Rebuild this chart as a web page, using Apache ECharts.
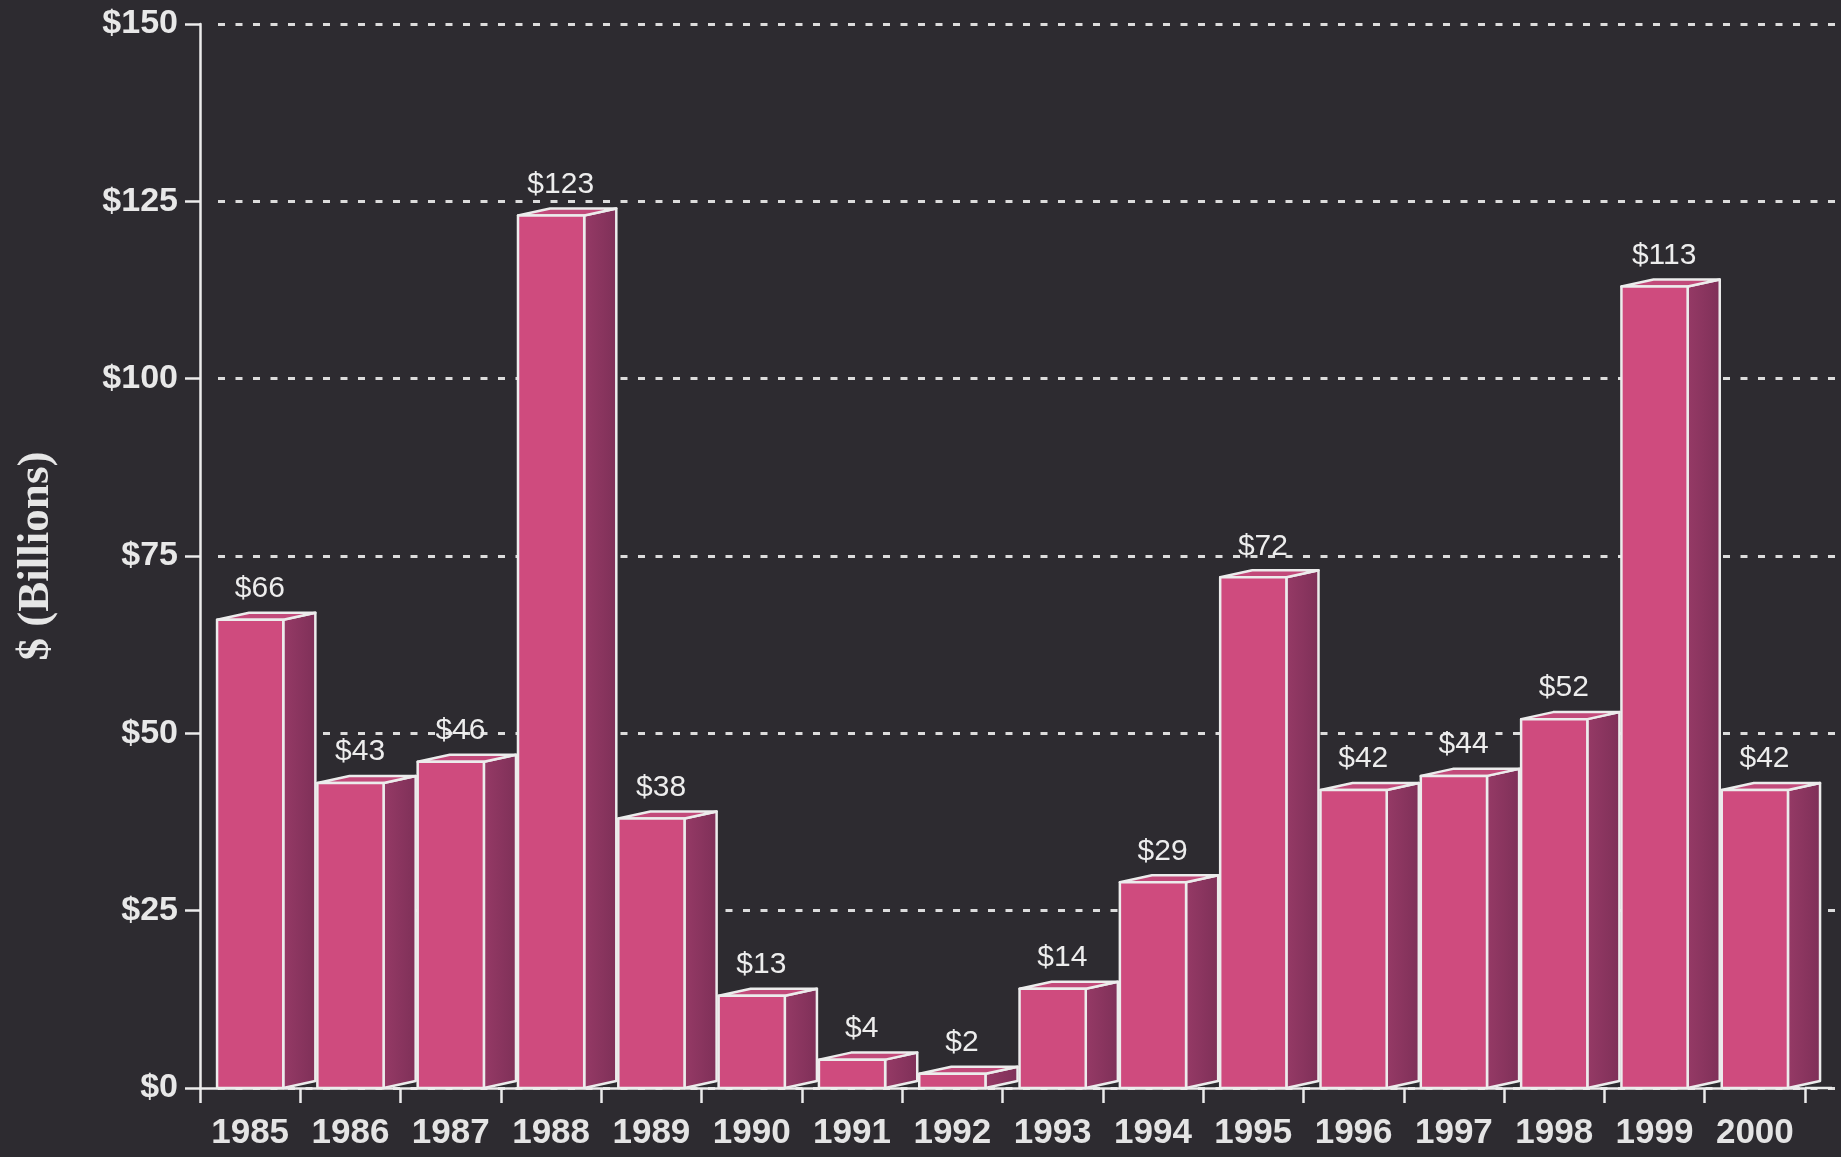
<!DOCTYPE html>
<html>
<head>
<meta charset="utf-8">
<script src="https://cdn.jsdelivr.net/npm/echarts@6/dist/echarts.min.js"></script>
<style>
html,body{margin:0;padding:0;background:#2d2b30;}
#chart{width:1841px;height:1157px;}
</style>
</head>
<body>
<div id="chart"></div>
<script>
var years = ['1985','1986','1987','1988','1989','1990','1991','1992','1993','1994','1995','1996','1997','1998','1999','2000'];
var values = [66, 43, 46, 123, 38, 13, 4, 2, 14, 29, 72, 42, 44, 52, 113, 42];
var yTicks = [0, 25, 50, 75, 100, 125, 150];
var yTitle = '$ (Billions)';

var chart = echarts.init(document.getElementById('chart'));
var lineColor = '#ececec';
var data = values.map(function (v, i) { return [i, v]; });

function renderBar(params, api) {
  var idx = api.value(0);
  var val = api.value(1);
  var base = api.coord([idx, 0]);
  var top = api.coord([idx, val]);
  var catW = api.size([1, 0])[0];
  var w = catW * 0.66, dx = catW * 0.32, dy = catW * 0.07;
  var x0 = base[0] - w / 2, x1 = x0 + w;
  var st = { stroke: lineColor, lineWidth: 2.5, lineJoin: 'round' };
  var children = [
    { type: 'polygon', shape: { points: [[x1, top[1]], [x1 + dx, top[1] - dy], [x1 + dx, base[1] - dy], [x1, base[1]]] },
      style: Object.assign({ fill: new echarts.graphic.LinearGradient(0, 0, 1, 0, [{offset: 0, color: '#963a66'}, {offset: 1, color: '#7e3058'}]) }, st) },
    { type: 'polygon', shape: { points: [[x0, top[1]], [x0 + dx, top[1] - dy], [x1 + dx, top[1] - dy], [x1, top[1]]] },
      style: Object.assign({ fill: '#c24a7a' }, st) },
    { type: 'rect', shape: { x: x0, y: top[1], width: w, height: base[1] - top[1] },
      style: Object.assign({ fill: '#cf4b7e' }, st) },
    { type: 'text', x: x0 + w / 2 + dx * 0.3, y: top[1] - 31,
      style: { text: '$' + val, fill: '#ededed', font: '30px "Liberation Sans", Arial, sans-serif', align: 'center', verticalAlign: 'middle' } }
  ];
  if (idx === years.length - 1) {
    children.push({ type: 'line', shape: { x1: base[0] + catW / 2, y1: base[1], x2: x1 + dx + 12, y2: base[1] },
      style: { stroke: lineColor, lineWidth: 2.5 } });
  }
  return { type: 'group', children: children };
}

var option = {
  backgroundColor: '#2d2b30',
  animation: false,
  grid: [
    { left: 200, right: 36, top: 24, bottom: 69, containLabel: false, outerBoundsMode: 'none' },
    { left: 218, right: 0, top: 24, bottom: 69, containLabel: false, outerBoundsMode: 'none' }
  ],
  xAxis: [
    { type: 'category', gridIndex: 0, data: years, boundaryGap: true,
      axisLine: { lineStyle: { color: lineColor, width: 2.5 } },
      axisTick: { show: true, interval: 0, length: 15, lineStyle: { color: lineColor, width: 2.5 } },
      axisLabel: { interval: 0, hideOverlap: false, color: '#e4e4e4', fontSize: 35, fontWeight: 'bold', fontFamily: '"Liberation Sans", Arial, sans-serif', margin: 28 } },
    { type: 'value', gridIndex: 1, min: 0, max: 1, show: false }
  ],
  yAxis: [
    { type: 'value', gridIndex: 0, min: 0, max: 150, interval: 25,
      name: yTitle, nameLocation: 'middle', nameGap: 141, nameRotate: 90,
      nameTextStyle: { color: '#e6e6e6', fontSize: 45, fontWeight: 'bold', fontFamily: '"Liberation Serif", "Times New Roman", serif' },
      axisLine: { show: true, lineStyle: { color: lineColor, width: 2.5 } },
      axisTick: { show: true, length: 15, lineStyle: { color: lineColor, width: 2.5 } },
      splitLine: { show: false },
      axisLabel: { color: '#e8e8e8', fontSize: 34, fontWeight: 'bold', fontFamily: '"Liberation Sans", Arial, sans-serif', margin: 22,
        formatter: function (v) { return '$' + v; } } },
    { type: 'value', gridIndex: 1, min: 0, max: 150, interval: 25,
      axisLine: { show: false }, axisTick: { show: false }, axisLabel: { show: false },
      splitLine: { show: true, lineStyle: { color: '#dcdcdc', width: 3, type: [7, 10.5] } } }
  ],
  series: [
    { type: 'scatter', xAxisIndex: 1, yAxisIndex: 1, data: [], silent: true },
    { type: 'custom', xAxisIndex: 0, yAxisIndex: 0, renderItem: renderBar, data: data, z: 5 }
  ]
};
chart.setOption(option);
</script>
</body>
</html>
